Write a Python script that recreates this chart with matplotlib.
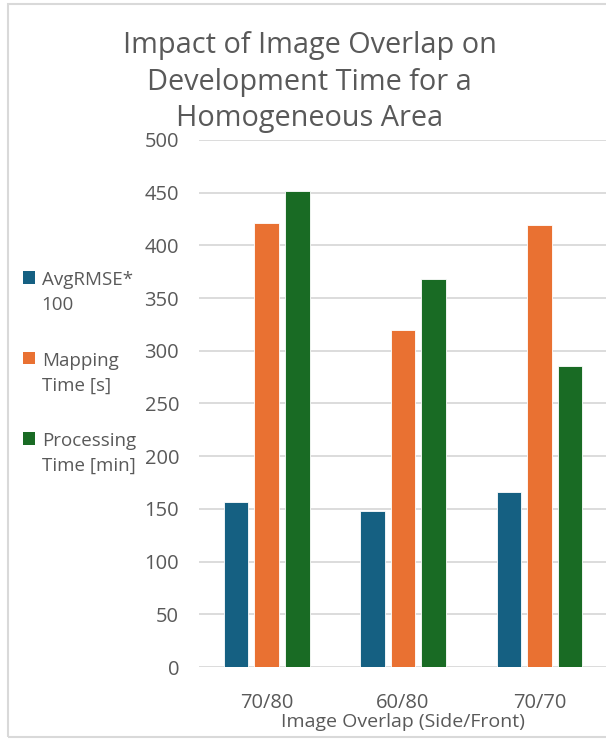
import matplotlib
matplotlib.use("Agg")
from matplotlib import pyplot as plt
from matplotlib.patches import Patch, Rectangle
import numpy as np

plt.rcParams['font.family'] = ['Open Sans', 'DejaVu Sans']

# data
overlaps = ["70/80", "60/80", "70/70"]
avg_rmse_x100 = [157, 148, 166]
mapping_time_s = [421, 320, 419]
processing_time_min = [452, 368, 286]
series_names = ["AvgRMSE*\n100", "Mapping\nTime [s]", "Processing\nTime [min]"]
colors = ["#156082", "#E97132", "#196B24"]

grey = "#595959"
fig = plt.figure(figsize=(6.06, 7.39), dpi=100)
ax = fig.add_axes([0.3276, 0.0974, 0.675, 0.7132])

x = np.arange(len(overlaps))
wid = 0.18
step = 0.224
series = [avg_rmse_x100, mapping_time_s, processing_time_min]
for i, vals in enumerate(series):
    ax.bar(x + (i - 1) * step, vals, width=wid, color=colors[i],
           edgecolor="white", linewidth=0.6, zorder=3)

ax.set_xlim(-0.5, 2.5)
ax.set_ylim(0, 500)
ax.set_yticks(range(0, 501, 50))
ax.set_xticks(x)
ax.set_xticklabels(overlaps)
ax.grid(axis="y", color="#D9D9D9", linewidth=1.3, zorder=0)
for s in ["top", "right", "left", "bottom"]:
    ax.spines[s].set_visible(False)
ax.tick_params(axis="both", length=0, labelsize=14.5, labelcolor=grey)
ax.tick_params(axis="y", pad=14)
ax.tick_params(axis="x", pad=19)
ax.set_xlabel("Image Overlap (Side/Front)", fontsize=14, color=grey, labelpad=0)

fig.text(0.511, 0.889, "Impact of Image Overlap on\nDevelopment Time for a\nHomogeneous Area",
         ha="center", va="center", fontsize=20.8, color=grey, linespacing=1.36)

handles = [Patch(facecolor=c) for c in colors]
leg = fig.legend(handles, series_names, loc="center left", bbox_to_anchor=(0.01, 0.495),
                 frameon=False, fontsize=13.5, labelcolor=grey, handlelength=0.65,
                 handleheight=0.65, handletextpad=0.35, labelspacing=2.0)
for t in leg.get_texts():
    t.set_linespacing(1.5)
# put the colour square next to the first line of each label
for col in leg._legend_handle_box.get_children():
    for row in col.get_children():
        row.align = "top"

# chart border
fig.patches.append(Rectangle((0.013, 0.003), 0.99, 0.992, transform=fig.transFigure,
                             fill=False, edgecolor="#D9D9D9", linewidth=1.5))

plt.savefig("out.png", dpi=100)
